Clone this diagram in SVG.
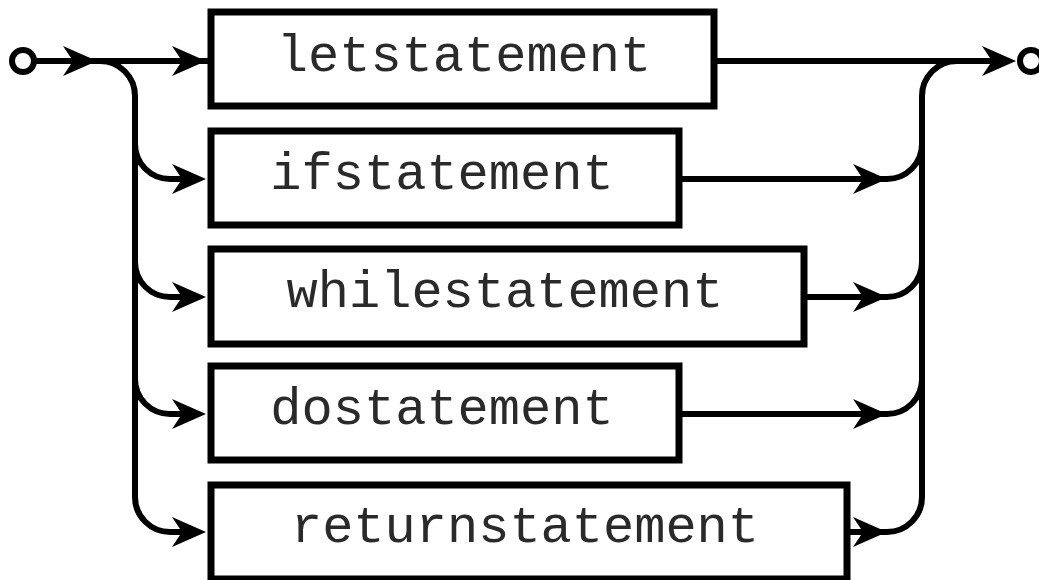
<svg xmlns="http://www.w3.org/2000/svg" width="1039" height="580" viewBox="0 0 1039 580">
<style>
.line{fill:none;stroke:#000;stroke-width:6}
.box{fill:#fff;stroke:#000;stroke-width:7}
.lbl{font-family:"Liberation Mono","Courier New",monospace;font-size:52px;fill:#2a2a2a;text-anchor:middle}
.term{fill:#fff;stroke:#000;stroke-width:6}
</style>
<defs>
<path id="arr" d="M0,0 L-34,-15 L-24,0 L-34,15 Z" fill="#000"/>
</defs>
<g id="connectors">
<path class="line" d="M33,61 L713,61"/>
<path class="line" d="M716,61 L995,61"/>
<path class="line" d="M100,61 A35,35 0 0 1 135,96 L135,497 A35,35 0 0 0 170,532 L185,532"/>
<path class="line" d="M135,144 A35,35 0 0 0 170,179 L185,179"/>
<path class="line" d="M135,262 A35,35 0 0 0 170,297 L185,297"/>
<path class="line" d="M135,379 A35,35 0 0 0 170,414 L185,414"/>
<path class="line" d="M679,179 L887,179 A35,35 0 0 0 922,144"/>
<path class="line" d="M804,297 L887,297 A35,35 0 0 0 922,262"/>
<path class="line" d="M679,414 L887,414 A35,35 0 0 0 922,379"/>
<path class="line" d="M847,532 L887,532 A35,35 0 0 0 922,497 L922,96 A35,35 0 0 1 957,61"/>
<use href="#arr" x="97" y="61"/>
<use href="#arr" x="206" y="61"/>
<use href="#arr" x="206" y="179"/>
<use href="#arr" x="206" y="297"/>
<use href="#arr" x="206" y="414"/>
<use href="#arr" x="206" y="532"/>
<use href="#arr" x="887" y="179"/>
<use href="#arr" x="887" y="297"/>
<use href="#arr" x="887" y="414"/>
<use href="#arr" x="887" y="532"/>
<use href="#arr" x="1016" y="61"/>
</g>
<g id="start"><circle class="term" cx="23" cy="61" r="11"/></g>
<g id="end"><circle class="term" cx="1031" cy="61" r="11"/></g>
<g id="letstatement"><rect class="box" x="211" y="12" width="503" height="94"/><text class="lbl" x="464" y="71">letstatement</text></g>
<g id="ifstatement"><rect class="box" x="211" y="131" width="468" height="94"/><text class="lbl" x="442" y="189">ifstatement</text></g>
<g id="whilestatement"><rect class="box" x="211" y="249" width="593" height="95"/><text class="lbl" x="505" y="307">whilestatement</text></g>
<g id="dostatement"><rect class="box" x="211" y="366" width="468" height="94"/><text class="lbl" x="442" y="424">dostatement</text></g>
<g id="returnstatement"><rect class="box" x="211" y="485" width="636" height="94"/><text class="lbl" x="525" y="542">returnstatement</text></g>
</svg>
